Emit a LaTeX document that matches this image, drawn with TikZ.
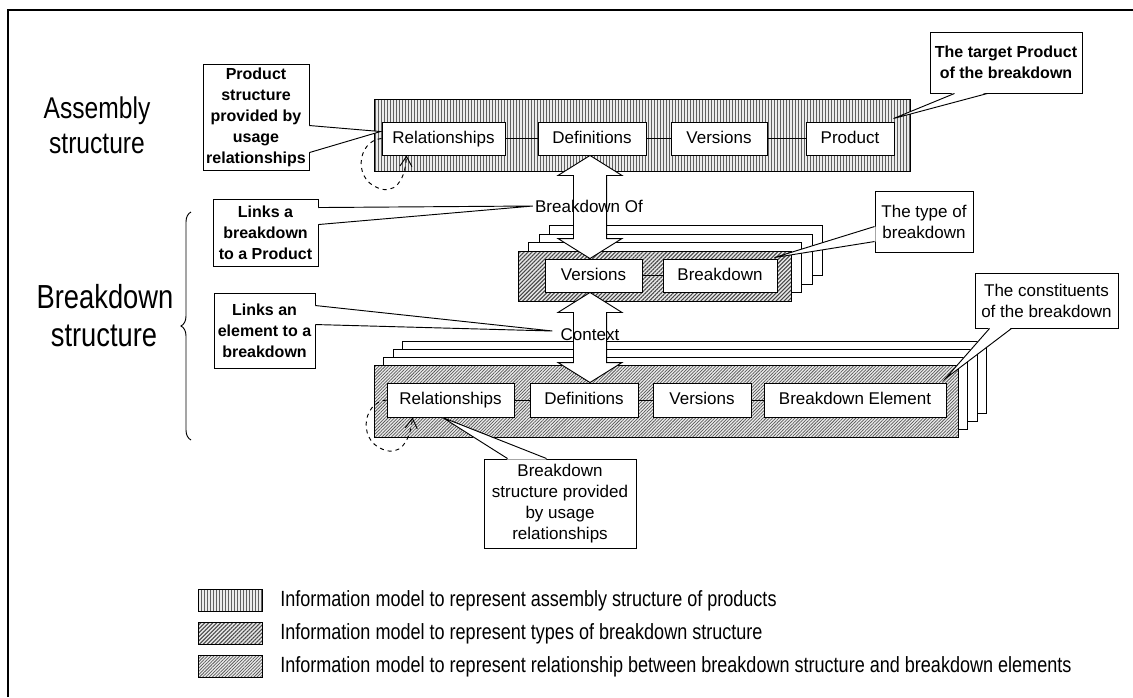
\documentclass[tikz,border=0pt]{standalone}
\usepackage{fontspec}
\setmainfont{Liberation Sans}
\newfontfamily\narrowfont[FakeStretch=0.82]{Liberation Sans}
\usetikzlibrary{patterns.meta,decorations.pathreplacing,calc,arrows.meta}

\def\px{0.75pt}

\tikzset{
  ibox/.style={draw, fill=white, line width=0.7pt, inner sep=0pt,
    minimum height=33*\px, text height=9.2pt, text depth=2.4pt,
    font=\fontsize{12.75}{15}\selectfont},
  asmhatch/.style={fill=gray!15, inner sep=0pt,
    postaction={pattern={Lines[angle=90,distance=2.25pt,line width=0.75pt]}, pattern color=black!62},
    postaction={draw, line width=0.7pt}},
  typhatch/.style={fill=gray!18, inner sep=0pt,
    postaction={pattern={Lines[angle=45,distance=2.1pt,line width=0.8pt]}, pattern color=black!72},
    postaction={draw, line width=0.7pt}},
  relhatch/.style={fill=gray!15, inner sep=0pt,
    postaction={pattern={Lines[angle=45,distance=1.7pt,line width=0.55pt]}, pattern color=black!65},
    postaction={draw, line width=0.7pt}},
  backsheet/.style={draw, fill=white, line width=0.7pt},
  link/.style={line width=0.7pt},
  callout/.style={draw, fill=white, line width=0.7pt, inner sep=0pt, align=center},
  boldtxt/.style={font=\bfseries\fontsize{12}{15.75}\selectfont},
  plaintxt/.style={font=\fontsize{12.75}{15.75}\selectfont},
  wedge/.style={line width=0.7pt},
  loopline/.style={dashed, line width=0.7pt, -{Straight Barb[length=7.5pt,width=9pt,line width=0.7pt]}},
  bigarrow/.style={draw, fill=white, line width=0.7pt},
  biglabel/.style={font=\narrowfont\fontsize{22.5}{27}\selectfont, anchor=base, inner sep=0pt},
  bdlabel/.style={font=\narrowfont\fontsize{25}{30}\selectfont, anchor=base, inner sep=0pt},
  arrowlabel/.style={font=\fontsize{12.75}{15}\selectfont, inner sep=0pt},
  legendtxt/.style={font=\narrowfont\fontsize{16.5}{19}\selectfont, anchor=west, inner sep=0pt},
}

% hollow double-headed arrow between two points (top, bottom)
\newcommand\dblarrow[2]{%
  \draw[bigarrow] let \p1=#1, \p2=#2 in
    (\x1,\y1) -- (\x1+24pt,\y1-15pt) -- (\x1+12.4pt,\y1-15pt)
    -- (\x2+12.4pt,\y2+15pt) -- (\x2+24pt,\y2+15pt) -- (\x2,\y2)
    -- (\x2-24pt,\y2+15pt) -- (\x2-12.4pt,\y2+15pt)
    -- (\x1-12.4pt,\y1-15pt) -- (\x1-24pt,\y1-15pt) -- cycle;}

% pointer wedge of a callout: base point, base point, tip, inward shift
\newcommand\callwedge[4]{%
  \fill[white] ($#1+#4$) -- #3 -- ($#2+#4$) -- cycle;
  \draw[wedge] #1 -- #3 -- #2;}

\begin{document}
\begin{tikzpicture}[x=0.75pt,y=-0.75pt]
\useasboundingbox (0,0) rectangle (1133,697);

% outer frame
\draw[line width=1.1pt] (8,697) -- (8,10) -- (1133,10);

% section titles
\node[biglabel] (asm1) at (97,118) {Assembly};
\node[biglabel] (asm2) at (97,153) {structure};
\node[bdlabel] (bd1) at (105,308) {Breakdown};
\node[bdlabel] (bd2) at (104,346) {structure};
\draw[line width=0.7pt, decorate, decoration={brace, amplitude=7.5pt}] (191,440) -- (191,212);

% ---------- assembly structure row ----------
\node[asmhatch, minimum width=536*\px, minimum height=72*\px] (tAsm) at (642,135) {};
\node[ibox, minimum width=123*\px] (tRel) at (443.5,138.5) {Relationships};
\node[ibox, minimum width=108*\px] (tDef) at (592,138.5) {Definitions};
\node[ibox, minimum width=96*\px] (tVer) at (719,138.5) {Versions};
\node[ibox, minimum width=88*\px] (tProd) at (850,138.5) {Product};
\draw[link] (tRel) -- (tDef);
\draw[link] (tDef) -- (tVer);
\draw[link] (tVer) -- (tProd);

% ---------- breakdown type stack ----------
\foreach \k in {3,2,1}
  \draw[backsheet] ({518+10.5*\k},{251-8.5*\k}) rectangle ({791+10.5*\k},{301-8.5*\k});
\node[typhatch, minimum width=273*\px, minimum height=50*\px] (mTyp) at (654.5,276) {};
\node[ibox, minimum width=97*\px] (mVer) at (593.5,275.5) {Versions};
\node[ibox, minimum width=114*\px] (mBrk) at (720,275.5) {Breakdown};
\draw[link] (mVer) -- (mBrk);

% ---------- breakdown element stack ----------
\foreach \k in {3,2,1}
  \draw[backsheet] ({374+9.5*\k},{365-8*\k}) rectangle ({958+9.5*\k},{437-8*\k});
\node[relhatch, minimum width=584*\px, minimum height=72*\px] (bCtx) at (666,401) {};
\node[ibox, minimum width=127*\px, minimum height=34*\px] (bRel) at (450.5,400) {Relationships};
\node[ibox, minimum width=108*\px, minimum height=34*\px] (bDef) at (584,400) {Definitions};
\node[ibox, minimum width=98*\px, minimum height=34*\px] (bVer) at (702,400) {Versions};
\node[ibox, minimum width=182*\px, minimum height=34*\px] (bBE) at (855,400) {Breakdown Element};
\draw[link] (bRel) -- (bDef);
\draw[link] (bDef) -- (bVer);
\draw[link] (bVer) -- (bBE);

% ---------- links between the structures ----------
\coordinate (ax) at (590,0);
\dblarrow{(tDef.south -| ax)}{(mVer.north -| ax)}
\dblarrow{(mVer.south -| ax)}{(bDef.north -| ax)}
\node[arrowlabel] (lblOf) at (589,206) {Breakdown Of};
\node[arrowlabel] (lblCtx) at (590,335) {Context};

% usage relationships (self loops)
\draw[loopline] (tRel.west) .. controls ($(tRel.west)+(-25,2)$) and ($(tRel.west)+(-30,45)$) ..
  ($(tRel.west)+(2,51)$) .. controls ($(tRel.west)+(18,53)$) and ($(tRel.west)+(24,35)$) ..
  ($(tRel.south west)+(25,0)$);
\draw[loopline] (bRel.west) .. controls ($(bRel.west)+(-25,2)$) and ($(bRel.west)+(-30,45)$) ..
  ($(bRel.west)+(2,51)$) .. controls ($(bRel.west)+(18,53)$) and ($(bRel.west)+(24,35)$) ..
  ($(bRel.south west)+(26,0)$);

% ---------- callouts ----------
\node[callout, boldtxt, minimum width=106*\px, minimum height=106*\px] (cPS) at (256,117)
  {Product\\structure\\provided by\\usage\\relationships};
\callwedge{($(cPS.north east)+(0,62)$)}{($(cPS.north east)+(0,89)$)}{($(tRel.north west)+(-1,10)$)}{(-1,0)}

\node[callout, boldtxt, minimum width=152*\px, minimum height=61*\px] (cTP) at (1006,62.5)
  {The target Product\\of the breakdown};
\callwedge{($(cTP.south west)+(25,0)$)}{($(cTP.south west)+(58,0)$)}{($(tProd.north east)+(-1,-3)$)}{(0,-1)}

\node[callout, boldtxt, minimum width=105*\px, minimum height=67*\px] (cLB) at (265.5,232.5)
  {Links a\\breakdown\\to a Product};
\callwedge{($(cLB.north east)+(0,9)$)}{($(cLB.north east)+(0,26)$)}{($(lblOf.west)+(-2,0)$)}{(-1,0)}

\node[callout, boldtxt, minimum width=101*\px, minimum height=75*\px] (cLE) at (264.5,330.5)
  {Links an\\element to a\\breakdown};
\callwedge{($(cLE.north east)+(0,13)$)}{($(cLE.north east)+(0,32)$)}{($(lblCtx.west)+(-8,-4)$)}{(-1,0)}

\node[callout, plaintxt, minimum width=98*\px, minimum height=61*\px] (cTB) at (924,221.5)
  {The type of\\breakdown};
\callwedge{($(cTB.north west)+(0,36)$)}{($(cTB.north west)+(0,51)$)}{($(mBrk.north east)+(-3,-1)$)}{(1,0)}

\node[callout, plaintxt, minimum width=143*\px, minimum height=55*\px] (cCB) at (1046.5,300.5)
  {The constituents\\of the breakdown};
\callwedge{($(cCB.south west)+(15,0)$)}{($(cCB.south west)+(37,0)$)}{($(bBE.north east)+(-1,-4)$)}{(0,-1)}

\node[callout, plaintxt, minimum width=152*\px, minimum height=89*\px] (cBS) at (560,503.5)
  {Breakdown\\structure provided\\by usage\\relationships};
\callwedge{($(cBS.north west)+(24,0)$)}{($(cBS.north west)+(63,0)$)}{($(bRel.south west)+(56,0)$)}{(0,1)}

% ---------- legend ----------
\node[asmhatch, minimum width=64*\px, minimum height=22*\px] (lg1) at (230,600) {};
\node[typhatch, minimum width=64*\px, minimum height=22*\px] (lg2) at (230,633) {};
\node[relhatch, minimum width=64*\px, minimum height=22*\px] (lg3) at (230,666) {};
\node[legendtxt] (lt1) at (280,601) {Information model to represent assembly structure of products};
\node[legendtxt] (lt2) at (280,634) {Information model to represent types of breakdown structure};
\node[legendtxt] (lt3) at (280,667) {Information model to represent relationship between breakdown structure and breakdown elements};
\end{tikzpicture}
\end{document}
